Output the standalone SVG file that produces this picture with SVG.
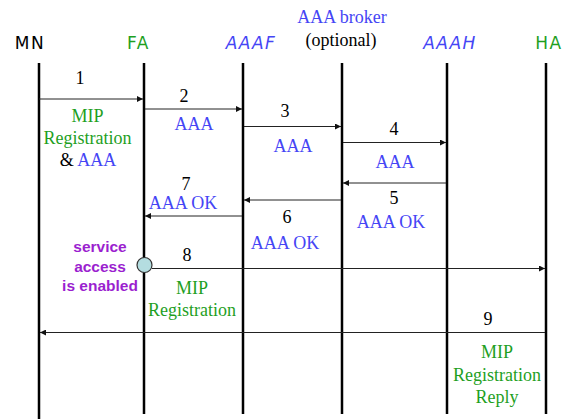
<svg xmlns="http://www.w3.org/2000/svg" width="566" height="419" viewBox="0 0 566 419">
<style>
.hdr{font-family:"DejaVu Sans","Liberation Sans",sans-serif;font-size:17px;text-anchor:middle;letter-spacing:1.5px}
.t{font-family:"Liberation Serif","Times New Roman",serif;font-size:18px;text-anchor:middle}
.g{fill:#1f9f1f}.b{fill:#4545f5}.k{fill:#000}
.svc{font-family:"Liberation Sans",Arial,sans-serif;font-size:15.5px;font-weight:bold;fill:#9b1fcf;text-anchor:middle}
.life{stroke:#000;stroke-width:2.5}
.msg{stroke:#222;stroke-width:1;fill:none;marker-end:url(#ah)}
</style>
<defs>
<marker id="ah" viewBox="0 0 10 10" refX="10" refY="5" markerWidth="8" markerHeight="6" markerUnits="userSpaceOnUse" orient="auto">
<path d="M0,0 L10,5 L0,10 z" fill="#111"/>
</marker>
</defs>
<rect width="566" height="419" fill="#fff"/>
<g id="MN"><text class="hdr k" x="30" y="49">MN</text><line class="life" x1="39" y1="63" x2="39" y2="419"/></g>
<g id="FA"><text class="hdr g" x="138.5" y="49">FA</text><line class="life" x1="144" y1="63" x2="144" y2="414"/></g>
<g id="AAAF"><text class="hdr b" x="251" y="49" font-style="italic">AAAF</text><line class="life" x1="243" y1="63" x2="243" y2="414"/></g>
<g id="broker"><text class="t b" x="342" y="23">AAA broker</text><text class="t k" x="341" y="46">(optional)</text><line class="life" x1="342" y1="63" x2="342" y2="414"/></g>
<g id="AAAH"><text class="hdr b" x="450" y="49" font-style="italic">AAAH</text><line class="life" x1="447" y1="63" x2="447" y2="414"/></g>
<g id="HA"><text class="hdr g" x="549" y="49">HA</text><line class="life" x1="546" y1="63" x2="546" y2="414"/></g>
<g id="connectors">
<line class="msg" x1="39" y1="99" x2="143" y2="99"/>
<line class="msg" x1="145" y1="109" x2="242" y2="109"/>
<line class="msg" x1="244" y1="126.5" x2="341" y2="126.5"/>
<line class="msg" x1="343" y1="142.5" x2="446" y2="142.5"/>
<line class="msg" x1="446" y1="183" x2="343" y2="183"/>
<line class="msg" x1="341" y1="200" x2="244" y2="200"/>
<line class="msg" x1="242" y1="216" x2="145" y2="216"/>
<line class="msg" x1="152" y1="268.5" x2="545" y2="268.5"/>
<line class="msg" x1="545" y1="332.5" x2="40" y2="332.5"/>
</g>
<g id="labels">
<text class="t k" x="80" y="84">1</text>
<text class="t g" x="87.5" y="122">MIP</text>
<text class="t g" x="87.5" y="144">Registration</text>
<text class="t" x="88" y="166"><tspan class="k">&amp; </tspan><tspan class="b">AAA</tspan></text>
<text class="t k" x="184" y="102">2</text>
<text class="t b" x="194" y="130">AAA</text>
<text class="t k" x="285" y="117">3</text>
<text class="t b" x="293" y="152">AAA</text>
<text class="t k" x="394" y="135">4</text>
<text class="t b" x="395" y="168">AAA</text>
<text class="t k" x="394" y="204">5</text>
<text class="t b" x="391" y="228">AAA OK</text>
<text class="t k" x="287" y="223">6</text>
<text class="t b" x="285" y="249">AAA OK</text>
<text class="t k" x="186" y="190">7</text>
<text class="t b" x="183" y="209">AAA OK</text>
<text class="t k" x="187" y="261">8</text>
<text class="t g" x="192" y="294">MIP</text>
<text class="t g" x="192" y="316">Registration</text>
<text class="t k" x="488" y="325">9</text>
<text class="t g" x="497" y="358">MIP</text>
<text class="t g" x="497" y="381">Registration</text>
<text class="t g" x="497" y="403">Reply</text>
</g>
<g id="service">
<circle cx="144.5" cy="265" r="7.5" fill="#b4dde0" stroke="#333" stroke-width="1.2"/>
<text class="svc" x="100" y="252">service</text>
<text class="svc" x="100" y="272">access</text>
<text class="svc" x="100" y="291">is enabled</text>
</g>
</svg>
